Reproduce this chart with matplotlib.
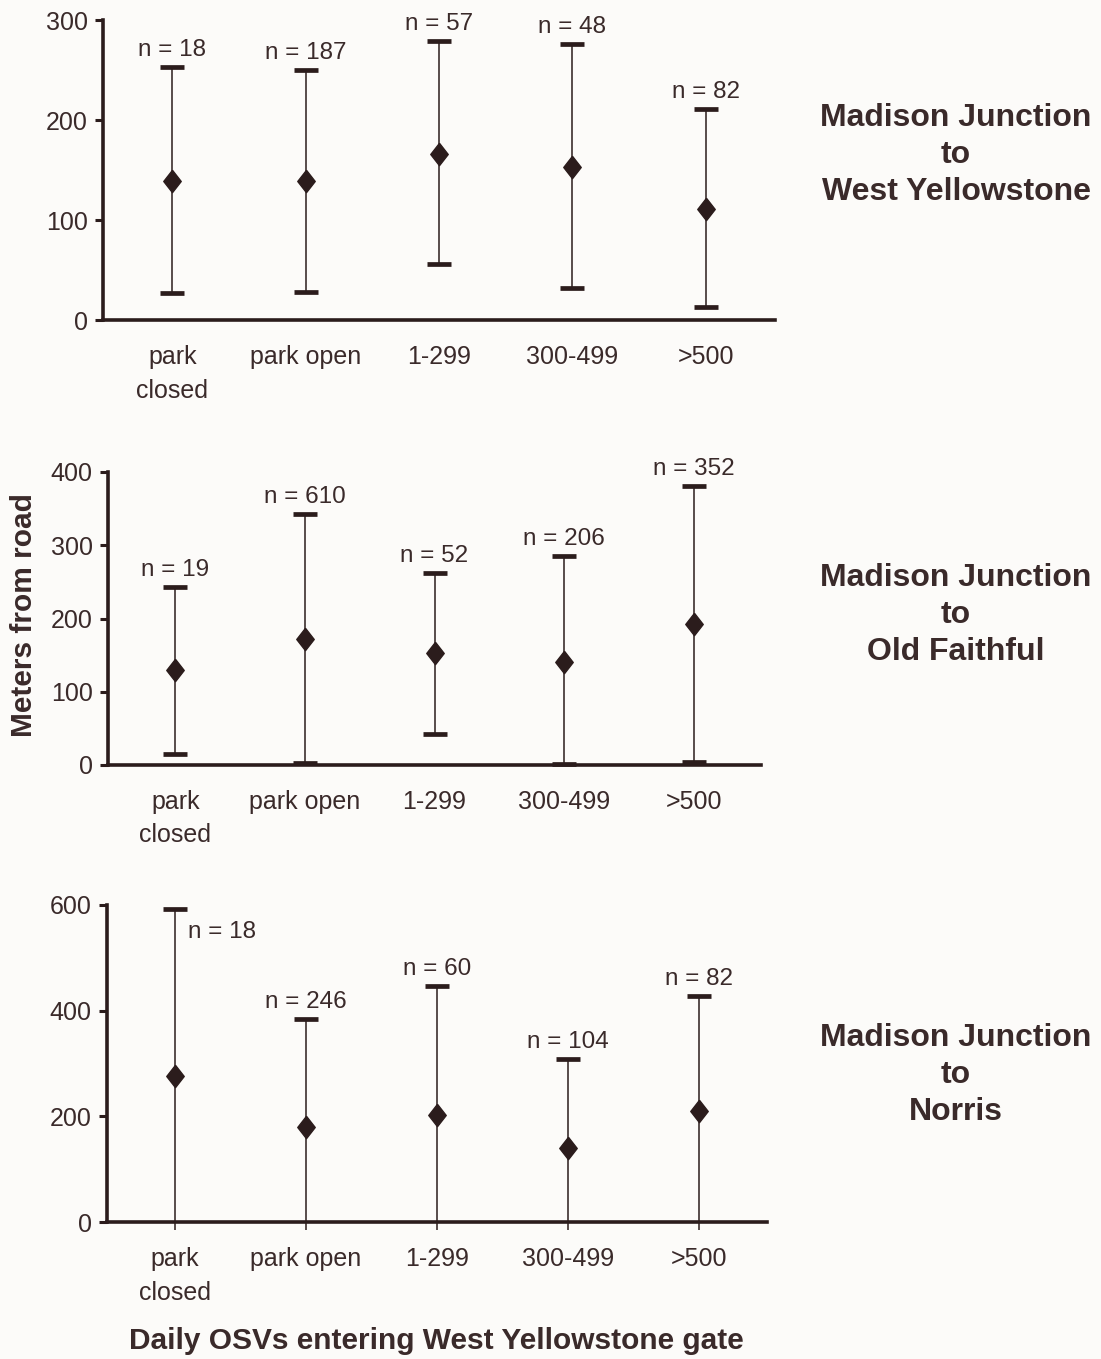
import matplotlib.pyplot as plt

# categories on the x axis (same for all three road segments)
categories = ["park\nclosed", "park open", "1-299", "300-499", ">500"]

# Madison Junction to West Yellowstone
wy_mean = [139, 139, 166, 153, 111]
wy_high = [253, 250, 279, 276, 211]
wy_low = [27, 28, 56, 32, 13]
wy_n = [18, 187, 57, 48, 82]

# Madison Junction to Old Faithful
of_mean = [130, 172, 153, 141, 193]
of_high = [243, 342, 262, 285, 381]
of_low = [15, 3, 42, 1, 4]
of_n = [19, 610, 52, 206, 352]

# Madison Junction to Norris (lower whiskers run below zero)
no_mean = [277, 179, 203, 141, 210]
no_high = [592, 384, 446, 308, 427]
no_low = [-15, -15, -15, -15, -15]
no_n = [18, 246, 60, 104, 82]

INK = "#2b1c1c"
TXT = "#3a2a2a"
BG = "#fcfbf9"
W, H = 1101, 1359
DIAMOND = [(0, 1), (0.78, 0), (0, -1), (-0.78, 0), (0, 1)]

plt.rcParams["font.family"] = ["Liberation Sans", "DejaVu Sans"]

fig = plt.figure(figsize=(W / 100, H / 100), dpi=100, facecolor=BG)


def px_axes(x0, x1, y0, y1):
    return fig.add_axes([x0 / W, 1 - y1 / H, (x1 - x0) / W, (y1 - y0) / H])


def panel(ax, mean, high, low, n, ymax, title, title_y, label_shift=None):
    ax.set_facecolor("none")
    xs = list(range(len(categories)))
    ax.vlines(xs, low, high, color=INK, lw=1.1, clip_on=False, zorder=2)
    ax.scatter(xs, high, marker="_", s=280, linewidths=3.4, color=INK, clip_on=False, zorder=3)
    lx = [x for x, lo in zip(xs, low) if lo >= 0]
    ly = [lo for lo in low if lo >= 0]
    ax.scatter(lx, ly, marker="_", s=280, linewidths=3.4, color=INK, clip_on=False, zorder=3)
    ax.scatter(xs, mean, marker=DIAMOND, s=260, color=INK, clip_on=False, zorder=4)

    for i, (x, hi, cnt) in enumerate(zip(xs, high, n)):
        off = (0, 12.5)
        if label_shift and i in label_shift:
            off = label_shift[i]
        ax.annotate(f"n = {cnt}", (x, hi), xytext=off, textcoords="offset points",
                    ha="center", va="center", fontsize=17.5, color=TXT)

    ax.set_xlim(-0.52, 4.52)
    ax.set_ylim(0, ymax)
    ax.set_yticks(range(0, ymax + 1, 100 if ymax <= 400 else 200))
    ax.set_xticks(xs)
    ax.set_xticklabels(categories, linespacing=1.5)
    ax.tick_params(axis="x", length=0, pad=18, labelsize=18, labelcolor=TXT)
    ax.tick_params(axis="y", length=6, width=2.2, color=INK, pad=5, labelsize=18, labelcolor=TXT)
    for s in ["top", "right"]:
        ax.spines[s].set_visible(False)
    for s in ["left", "bottom"]:
        ax.spines[s].set_color(INK)
        ax.spines[s].set_linewidth(2.6)

    fig.text(956 / W, 1 - title_y / H, title, ha="center", va="center",
             fontsize=23, fontweight="bold", color=TXT, linespacing=1.3)


ax1 = px_axes(103, 775, 20, 320)
panel(ax1, wy_mean, wy_high, wy_low, wy_n, 300,
      "Madison Junction\nto\nWest Yellowstone", 155)

ax2 = px_axes(108, 761, 472, 765)
panel(ax2, of_mean, of_high, of_low, of_n, 400,
      "Madison Junction\nto\nOld Faithful", 615)

ax3 = px_axes(107, 767, 905, 1222)
panel(ax3, no_mean, no_high, no_low, no_n, 600,
      "Madison Junction\nto\nNorris", 1075, label_shift={0: (34, -16.5)})

fig.text(24 / W, 1 - 615 / H, "Meters from road", rotation=90, ha="center", va="center",
         fontsize=21.5, fontweight="bold", color=TXT)
fig.text(436 / W, 1 - 1341 / H, "Daily OSVs entering West Yellowstone gate", ha="center",
         va="center", fontsize=21.5, fontweight="bold", color=TXT)

fig.savefig("out.png", dpi=100, facecolor=BG)
